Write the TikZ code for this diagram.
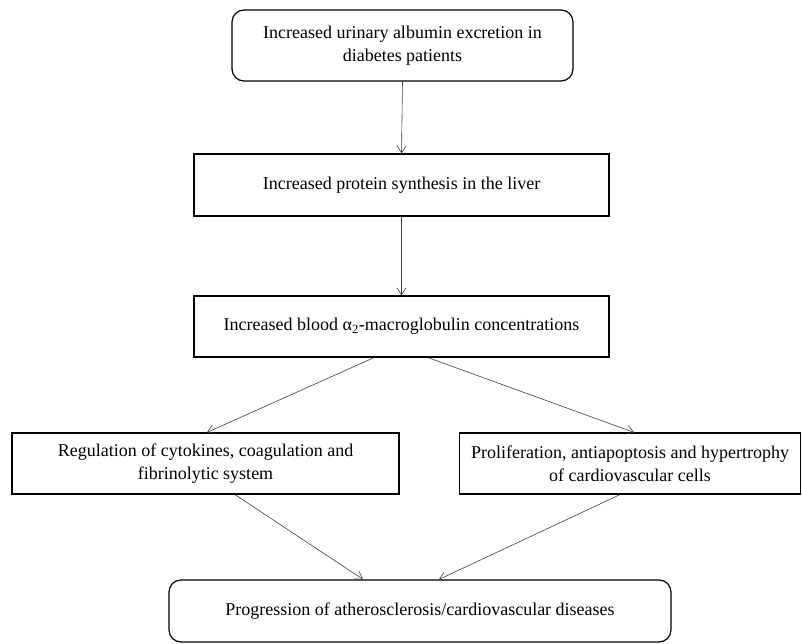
\documentclass[tikz,border=0pt]{standalone}
\usepackage{fontspec}
\setmainfont{Liberation Serif}
\usetikzlibrary{arrows.meta}
\begin{document}
\begin{tikzpicture}[x=1pt,y=-1pt,
  box/.style={draw=black, line width=1.2pt, align=center, inner sep=0pt,
    font=\fontsize{18}{23}\selectfont},
  rbox/.style={box, rounded corners=12pt},
  arr/.style={draw=black!75, line width=0.6pt, -{Straight Barb[length=7pt,width=9pt,line width=0.6pt]}}]
\useasboundingbox (0,0) rectangle (802,644);
\node[rbox, minimum width=341pt, minimum height=71pt] (b1) at (402.5,45.5)
  {Increased urinary albumin excretion in\\diabetes patients};
\node[box, minimum width=415pt, minimum height=62pt] (b2) at (401.5,185)
  {Increased protein synthesis in the liver};
\node[box, minimum width=415pt, minimum height=61pt] (b3) at (401.5,326.5)
  {Increased blood α\textsubscript{2}-macroglobulin concentrations};
\node[box, minimum width=387pt, minimum height=61pt] (b4) at (205.5,463.5)
  {Regulation of cytokines, coagulation and\\fibrinolytic system};
\node[box, minimum width=341pt, minimum height=61pt] (b5) at (630,463.5)
  {Proliferation, antiapoptosis and hypertrophy\\of cardiovascular cells};
\node[rbox, minimum width=502pt, minimum height=62pt] (b6) at (420,611)
  {Progression of atherosclerosis/cardiovascular diseases};
\draw[arr] (b1.south) -- (b2.north);
\draw[arr] (b2.south) -- (b3.north);
\draw[arr] ([xshift=-27.5pt]b3.south) -- ([xshift=1.5pt]b4.north);
\draw[arr] ([xshift=26.5pt]b3.south) -- ([xshift=4pt]b5.north);
\draw[arr] ([xshift=29.5pt]b4.south) -- ([xshift=-57pt]b6.north);
\draw[arr] ([xshift=-10pt]b5.south) -- ([xshift=19pt]b6.north);
\end{tikzpicture}
\end{document}
